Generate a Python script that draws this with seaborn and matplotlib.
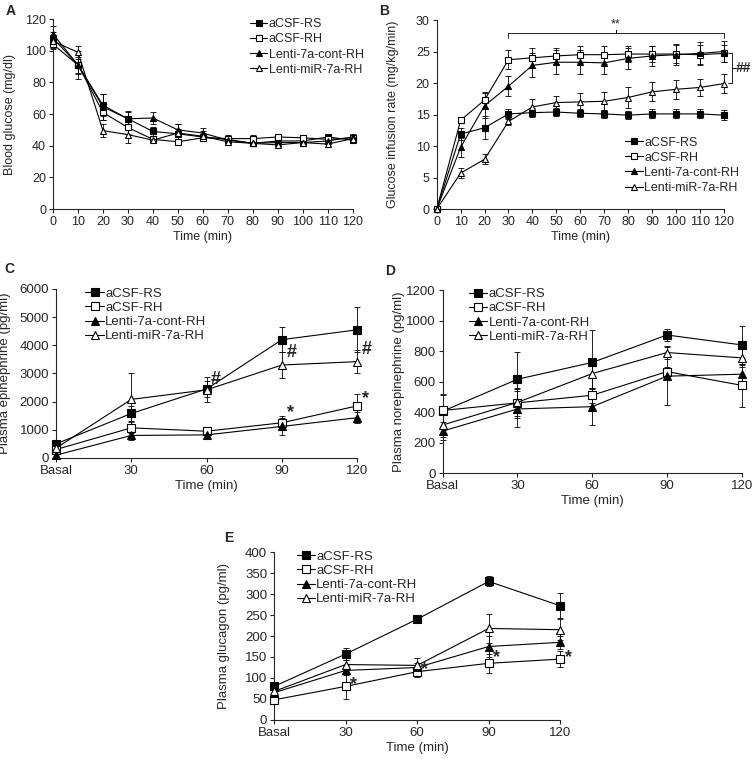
import matplotlib
matplotlib.use("Agg")
import matplotlib.pyplot as plt
import seaborn as sns

# ---- data -------------------------------------------------------------
groups = ['aCSF-RS', 'aCSF-RH', 'Lenti-7a-cont-RH', 'Lenti-miR-7a-RH']

clamp_time = [0, 10, 20, 30, 40, 50, 60, 70, 80, 90, 100, 110, 120]
hormone_labels = ['Basal', '30', '60', '90', '120']

# A: blood glucose (mg/dl)
glucose = {
    'aCSF-RS': [108, 91, 65.5, 57, 49, 47.5, 45.5, 44, 41.5, 43, 43, 45.5, 43.5],
    'aCSF-RH': [104, 91, 61, 51.5, 44, 42.5, 45, 44.5, 44.5, 45.5, 45, 44, 45],
    'Lenti-7a-cont-RH': [110.5, 91, 64.5, 57, 57.5, 50, 48, 43.5, 41.5, 42, 42, 43, 45.5],
    'Lenti-miR-7a-RH': [106, 99, 49.5, 47, 43.5, 48, 46, 42.5, 41.5, 40.5, 42, 41, 44.5],
}
glucose_err = {
    'aCSF-RS': [4, 6, 7, 5, 3, 3, 2, 2, 2, 2, 2, 2, 2],
    'aCSF-RH': [3, 5, 5, 4, 2, 2, 2, 2, 2, 2, 2, 2, 2],
    'Lenti-7a-cont-RH': [5, 9, 8, 4, 4, 4, 3, 2, 2, 2, 2, 2, 2],
    'Lenti-miR-7a-RH': [4, 4, 4, 5, 2, 6, 3, 2, 2, 2, 2, 2, 2],
}

# B: glucose infusion rate (mg/kg/min)
gir = {
    'aCSF-RS': [0, 11.9, 12.9, 15.1, 15.3, 15.4, 15.2, 15.1, 14.9, 15.1, 15.1, 15.1, 14.9],
    'aCSF-RH': [0, 14.1, 17.3, 23.7, 24.0, 24.3, 24.5, 24.5, 24.6, 24.6, 24.6, 24.5, 24.7],
    'Lenti-7a-cont-RH': [0, 9.8, 16.4, 19.5, 22.8, 23.3, 23.3, 23.2, 23.9, 24.3, 24.5, 24.7, 25.0],
    'Lenti-miR-7a-RH': [0, 5.7, 7.9, 13.9, 16.2, 16.9, 17.0, 17.1, 17.7, 18.6, 19.0, 19.3, 19.9],
}
gir_err = {
    'aCSF-RS': [0, 1.0, 1.8, 0.8, 0.7, 0.7, 0.6, 0.6, 0.6, 0.7, 0.7, 0.7, 0.8],
    'aCSF-RH': [0, 0.5, 1.3, 1.5, 1.6, 1.3, 1.3, 1.4, 1.3, 1.3, 1.4, 1.5, 1.3],
    'Lenti-7a-cont-RH': [0, 1.5, 2.0, 1.6, 1.9, 1.9, 1.9, 1.8, 1.7, 1.6, 1.7, 1.8, 1.7],
    'Lenti-miR-7a-RH': [0, 0.8, 0.8, 0.6, 1.2, 1.1, 1.4, 1.4, 1.6, 1.5, 1.5, 1.3, 1.5],
}

# C: plasma epinephrine (pg/ml)
epi = {
    'aCSF-RS': [500, 1580, 2450, 4200, 4550],
    'aCSF-RH': [300, 1070, 950, 1250, 1850],
    'Lenti-7a-cont-RH': [100, 800, 820, 1120, 1430],
    'Lenti-miR-7a-RH': [350, 2080, 2420, 3300, 3420],
}
epi_err = {
    'aCSF-RS': [100, 250, 300, 450, 800],
    'aCSF-RH': [80, 200, 150, 250, 420],
    'Lenti-7a-cont-RH': [60, 150, 150, 300, 200],
    'Lenti-miR-7a-RH': [100, 950, 450, 450, 400],
}

# D: plasma norepinephrine (pg/ml)
norepi = {
    'aCSF-RS': [405, 615, 725, 905, 840],
    'aCSF-RH': [410, 460, 510, 665, 575],
    'Lenti-7a-cont-RH': [275, 420, 435, 635, 648],
    'Lenti-miR-7a-RH': [315, 463, 652, 790, 755],
}
norepi_err = {
    'aCSF-RS': [110, 180, 215, 40, 125],
    'aCSF-RH': [100, 100, 50, 30, 140],
    'Lenti-7a-cont-RH': [60, 120, 120, 190, 60],
    'Lenti-miR-7a-RH': [80, 90, 100, 40, 60],
}

# E: plasma glucagon (pg/ml)
glucagon = {
    'aCSF-RS': [80, 157, 240, 330, 272],
    'aCSF-RH': [48, 80, 115, 135, 145],
    'Lenti-7a-cont-RH': [65, 118, 125, 175, 185],
    'Lenti-miR-7a-RH': [68, 132, 130, 218, 215],
}
glucagon_err = {
    'aCSF-RS': [8, 15, 8, 12, 30],
    'aCSF-RH': [8, 30, 12, 22, 20],
    'Lenti-7a-cont-RH': [6, 12, 10, 25, 15],
    'Lenti-miR-7a-RH': [10, 12, 18, 35, 25],
}

# marker shape and fill for each group
styles = {
    'aCSF-RS': ('s', 'black'),
    'aCSF-RH': ('s', 'white'),
    'Lenti-7a-cont-RH': ('^', 'black'),
    'Lenti-miR-7a-RH': ('^', 'white'),
}

sns.set_style("ticks")
plt.rcParams['font.family'] = ['Liberation Sans', 'DejaVu Sans']
plt.rcParams['axes.linewidth'] = 0.8


def draw_series(ax, x, values, errors, ms):
    for g in groups:
        eb = ax.errorbar(x, values[g], yerr=errors[g], fmt='none', ecolor='black',
                         elinewidth=0.6, capsize=2, capthick=0.6, zorder=2)
        for art in eb.get_children():
            art.set_clip_on(False)
        marker, face = styles[g]
        sns.lineplot(x=x, y=values[g], ax=ax, color='black', linewidth=0.8,
                     marker=marker, markersize=ms, markerfacecolor=face,
                     markeredgecolor='black', markeredgewidth=0.8,
                     label=g, errorbar=None, sort=False, clip_on=False, zorder=3)


def style_axes(ax, fs):
    sns.despine(ax=ax)
    ax.tick_params(direction='out', length=3, width=0.8, labelsize=fs, pad=2)
    ax.set_xlabel('Time (min)', fontsize=fs, labelpad=2)


fig = plt.figure(figsize=(7.53, 7.59), dpi=100)

# ---- A ---------------------------------------------------------------
ax = fig.add_axes([0.0704, 0.7246, 0.398, 0.2503])
draw_series(ax, clamp_time, glucose, glucose_err, 4.5)
ax.set_xlim(0, 120)
ax.set_ylim(0, 120)
ax.set_xticks(clamp_time)
ax.set_yticks(range(0, 121, 20))
style_axes(ax, 9)
ax.set_ylabel('Blood glucose (mg/dl)', fontsize=9)
ax.yaxis.set_label_coords(-0.125, 0.5)
ax.legend(loc='upper left', bbox_to_anchor=(0.64, 1.03), frameon=False, fontsize=9,
          handlelength=1.4, handletextpad=0.1, labelspacing=0.25, borderaxespad=0)
fig.text(0.008, 0.995, 'A', fontsize=10, fontweight='bold', va='top')

# ---- B ---------------------------------------------------------------
ax = fig.add_axes([0.580, 0.7246, 0.381, 0.249])
draw_series(ax, clamp_time, gir, gir_err, 4.5)
ax.set_xlim(0, 120)
ax.set_ylim(0, 30)
ax.set_xticks(clamp_time)
ax.set_yticks(range(0, 31, 5))
style_axes(ax, 9)
ax.set_ylabel('Glucose infusion rate (mg/kg/min)', fontsize=9)
ax.yaxis.set_label_coords(-0.13, 0.5)
ax.legend(loc='upper left', bbox_to_anchor=(0.64, 0.41), frameon=False, fontsize=9,
          handlelength=1.4, handletextpad=0.1, labelspacing=0.25, borderaxespad=0)
ax.plot([30, 30, 75, 75, 75, 120, 120], [27.1, 28.0, 28.0, 28.4, 28.0, 28.0, 27.1],
        color='black', linewidth=0.6, clip_on=False)
ax.text(75, 29.3, '**', ha='center', va='center', fontsize=9)
ax.plot([121.7, 123.3, 123.3, 124.6, 123.3, 123.3, 121.7],
        [24.8, 24.8, 22.4, 22.4, 22.4, 20.0, 20.0],
        color='black', linewidth=0.6, clip_on=False)
ax.text(125, 22.4, '##', ha='left', va='center', fontsize=10, fontweight='bold')
fig.text(0.504, 0.995, 'B', fontsize=10, fontweight='bold', va='top')

# ---- C ---------------------------------------------------------------
pos = list(range(len(hormone_labels)))
ax = fig.add_axes([0.0744, 0.3966, 0.400, 0.2227])
draw_series(ax, pos, epi, epi_err, 6)
ax.set_xlim(0, 4)
ax.set_ylim(0, 6000)
ax.set_xticks(pos)
ax.set_xticklabels(hormone_labels)
ax.set_yticks(range(0, 6001, 1000))
style_axes(ax, 9.5)
ax.set_ylabel('Plasma epinephrine (pg/ml)', fontsize=9.5)
ax.yaxis.set_label_coords(-0.15, 0.5)
ax.legend(loc='upper left', bbox_to_anchor=(0.08, 1.04), frameon=False, fontsize=9.5,
          handlelength=1.4, handletextpad=0.1, labelspacing=0.15, borderaxespad=0)
for xx, yy, s in [(2.05, 2800, '#'), (3.07, 3750, '#'), (4.06, 3850, '#'),
                  (3.07, 1600, '*'), (4.06, 2100, '*')]:
    ax.text(xx, yy, s, ha='left', va='center', fontsize=13, fontweight='bold')
fig.text(0.006, 0.655, 'C', fontsize=10, fontweight='bold', va='top')

# ---- D ---------------------------------------------------------------
ax = fig.add_axes([0.588, 0.3768, 0.397, 0.2411])
draw_series(ax, pos, norepi, norepi_err, 6)
ax.set_xlim(0, 4)
ax.set_ylim(0, 1200)
ax.set_xticks(pos)
ax.set_xticklabels(hormone_labels)
ax.set_yticks(range(0, 1201, 200))
style_axes(ax, 9.5)
ax.set_ylabel('Plasma norepinephrine (pg/ml)', fontsize=9.5)
ax.yaxis.set_label_coords(-0.125, 0.5)
ax.legend(loc='upper left', bbox_to_anchor=(0.07, 1.04), frameon=False, fontsize=9.5,
          handlelength=1.4, handletextpad=0.1, labelspacing=0.15, borderaxespad=0)
fig.text(0.512, 0.652, 'D', fontsize=10, fontweight='bold', va='top')

# ---- E ---------------------------------------------------------------
ax = fig.add_axes([0.364, 0.0514, 0.380, 0.2213])
draw_series(ax, pos, glucagon, glucagon_err, 6)
ax.set_xlim(0, 4)
ax.set_ylim(0, 400)
ax.set_xticks(pos)
ax.set_xticklabels(hormone_labels)
ax.set_yticks(range(0, 401, 50))
style_axes(ax, 9.5)
ax.set_ylabel('Plasma glucagon (pg/ml)', fontsize=9.5)
ax.yaxis.set_label_coords(-0.155, 0.5)
ax.legend(loc='upper left', bbox_to_anchor=(0.06, 1.04), frameon=False, fontsize=9.5,
          handlelength=1.4, handletextpad=0.1, labelspacing=0.15, borderaxespad=0)
for xx, yy, s in [(1.06, 85, '*'), (2.06, 120, '*'), (3.06, 148, '*'), (4.06, 148, '*')]:
    ax.text(xx, yy, s, ha='left', va='center', fontsize=13, fontweight='bold')
fig.text(0.298, 0.300, 'E', fontsize=10, fontweight='bold', va='top')

fig.savefig('out.png', dpi=100)
